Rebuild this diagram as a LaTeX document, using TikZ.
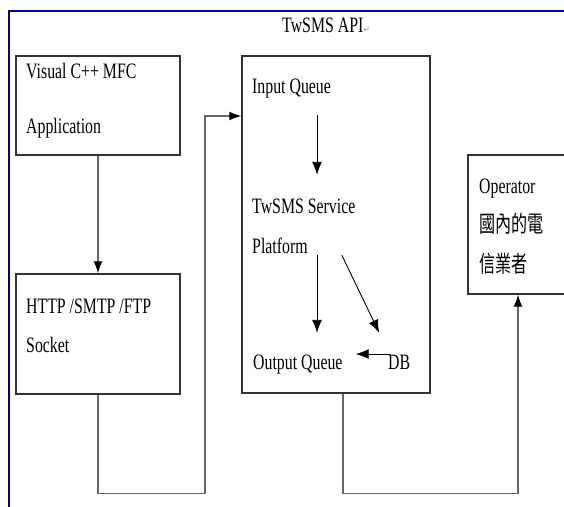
\documentclass[tikz,border=0pt]{standalone}
\usepackage{fontspec}
\setmainfont{Liberation Serif}
\newfontfamily\wordfont{Liberation Serif}[FakeStretch=0.72]
\newfontfamily\cjkfont{Noto Sans CJK TC}[FakeStretch=0.7]
\newfontfamily\markfont{DejaVu Sans}
\usetikzlibrary{
  arrows.meta,  % Tips "Latex[...]"
  calc
}
\definecolor{framenavy}{RGB}{0,0,128}
\tikzset{
  x=1pt,
  y=-1pt,
  >={Latex[length=13pt,width=10pt]},
  my box/.style={
    draw=black!80,
    line width=1.4pt,
    inner sep=0pt
  },
  my text/.style={
    font=\wordfont\fontsize{22}{24}\selectfont,
    inner sep=0pt,
    anchor=base west,
    text height=15pt,
    text depth=5pt
  },
  my cjk/.style={
    my text,
    font=\cjkfont\fontsize{23}{25}\selectfont
  },
  wire/.style={
    draw=black!60,
    line width=1.3pt
  },
  tip/.style={
    -{Latex[length=12pt,width=9pt,fill=black,color=black]}
  },
  flow/.style={
    draw=black,
    line width=0.9pt
  }
}

\begin{document}
\begin{tikzpicture}
\useasboundingbox (0,0) rectangle (564,506);
\clip (0,0) rectangle (564,506);
\draw[framenavy,line width=2.5pt] (9,600) -- (9,11) -- (700,11);
% boxes
\node[my box,minimum width=164pt,minimum height=99pt]  (app)  at (98,105.5)  {};
\node[my box,minimum width=164pt,minimum height=120pt] (sock) at (98,334)    {};
\node[my box,minimum width=188pt,minimum height=337pt] (api)  at (336,224.5) {};
\node[my box,minimum width=100pt,minimum height=139pt] (oper) at (518,224.5) {};
% texts
\node[my text] (title) at (282,32.5)
  {TwSMS API{\markfont\fontsize{8}{8}\selectfont\color{black!45}↵}};
\node[my text] (app1)  at (26,78)   {Visual C++ MFC};
\node[my text] (app2)  at (26,133)  {Application};
\node[my text] (sock1) at (26,313)  {HTTP /SMTP /FTP};
\node[my text] (sock2) at (26,352)  {Socket};
\node[my text] (iq)    at (252,93)  {Input Queue};
\node[my text] (svc)   at (252,213) {TwSMS Service};
\node[my text] (plat)  at (252,253) {Platform};
\node[my text] (oq)    at (253,369) {Output Queue};
\node[my text] (db)    at (388,369) {DB};
\node[my text] (op1)   at (479,193) {Operator};
\node[my cjk]  (op2)   at (479,232) {國內的電};
\node[my cjk]  (op3)   at (479,272) {信業者};
% connectors between boxes
\draw[wire,tip] (app.south) -- (sock.north);
\draw[wire,tip] (sock.south) -- ++(0,99) -| (205,116) -- (api.west |- 0,116);
\draw[wire,tip] (api.south -| 343,0) -- ++(0,100) -| (oper.south);
% inside the API box
\draw[flow,->,shorten <=17pt,shorten >=23pt] (iq.south -| 317,0) -- (svc.north -| 317,0);
\draw[flow,->,shorten <=-3pt,shorten >=21pt] (plat.south -| 317,0) -- (oq.north -| 317,0);
\draw[flow,->] ([xshift=34pt,yshift=3pt]plat.south east) -- ([xshift=-20pt,yshift=21pt]db.north);
\draw[flow,->,shorten <=-2pt,shorten >=13pt] ([yshift=10pt]db.west) -- ([yshift=10pt]oq.east);
\end{tikzpicture}
\end{document}
